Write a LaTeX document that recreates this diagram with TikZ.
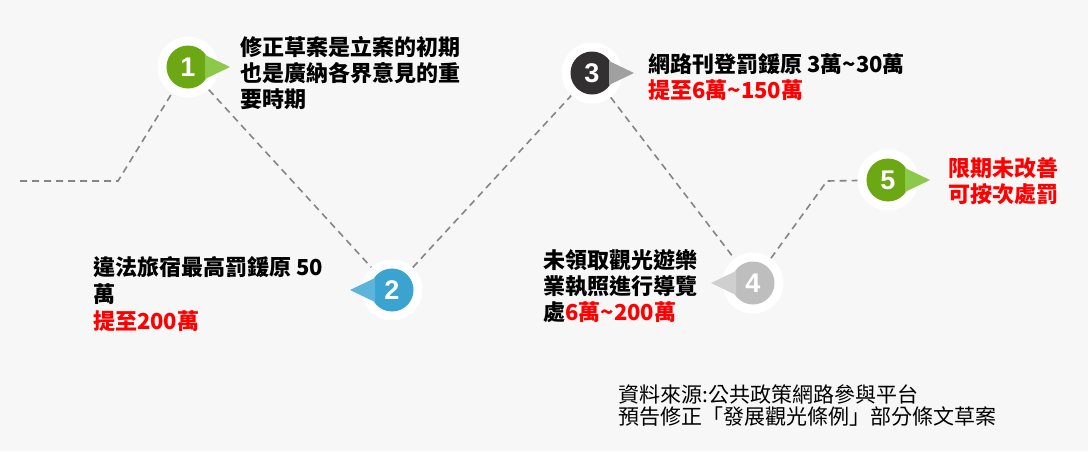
\documentclass[tikz,border=0pt]{standalone}
\usepackage{fontspec}
\setmainfont{Noto Sans CJK TC}
\newfontfamily\numfont{Liberation Sans}
\definecolor{bg}{HTML}{F7F7F7}
\definecolor{trailgray}{HTML}{858585}
\definecolor{stepgreen}{HTML}{6BA814}
\definecolor{ptrgreen}{HTML}{8CC94A}
\definecolor{stepblue}{HTML}{3BA3CF}
\definecolor{ptrblue}{HTML}{5DB4DA}
\definecolor{stepdark}{HTML}{333031}
\definecolor{ptrdark}{HTML}{A0A0A0}
\definecolor{stepgray}{HTML}{BEBEBE}
\definecolor{ptrgray}{HTML}{CFCFCF}
\definecolor{alertred}{HTML}{FF0000}
\begin{document}
\begin{tikzpicture}[x=1pt, y=-1pt, every node/.style={inner sep=0pt},
    ring/.style={circle, fill=white, minimum size=61pt},
    disc/.style={circle, minimum size=43pt, text=white,
    font=\numfont\bfseries\fontsize{27}{27}\selectfont},
    trail/.style={draw=trailgray, line width=1.6pt, dash pattern=on 7pt off 5pt},
    note/.style={anchor=north west, align=left,
    font=\bfseries\fontsize{22}{26}\selectfont}]
        \fill[bg] (0,0) rectangle (1088,451);
        \useasboundingbox (0,0) rectangle (1088,451);
        \coordinate (start) at (20,181);
        \coordinate (bendA) at (118,181);
        \coordinate (bendB) at (827,181);
        \foreach \i/\x/\y in {1/188/67, 2/392/290, 3/592/73, 4/753/283, 5/888/180}
        \node[ring] (ring\i) at (\x,\y) {};
        \draw[trail] (start) -- (bendA) -- (ring1);
        \foreach \a/\b in {1/2, 2/3, 3/4}
        \draw[trail] (ring\a) -- (ring\b);
        \draw[trail] (ring4) -- (bendB) -- (ring5);
        \foreach \i/\c/\p/\s in {1/stepgreen/ptrgreen/1, 2/stepblue/ptrblue/-1,
        3/stepdark/ptrdark/1, 4/stepgray/ptrgray/-1, 5/stepgreen/ptrgreen/1}
        {
        \node[disc, fill=\c] (step\i) at (ring\i) {\i};
        \fill[\p] ([shift={(\s*17,-12)}]ring\i.center) -- ([shift={(\s*42,0)}]ring\i.center)
        -- ([shift={(\s*17,12)}]ring\i.center) -- cycle;
        }
        \node[note] (noteA) at (240,36) {修正草案是立案的初期\\也是廣納各界意見的重\\要時期};
        \node[note, font=\bfseries\fontsize{22}{27}\selectfont] (noteB) at (93,256)
        {違法旅宿最高罰鍰原 50\\萬\\\textcolor{alertred}{提至200萬}};
        \node[note] (noteC) at (648,53) {網路刊登罰鍰原 3萬\textasciitilde30萬\\
        \textcolor{alertred}{提至6萬\textasciitilde150萬}};
        \node[note] (noteD) at (543,249) {未領取觀光遊樂\\業執照進行導覽\\
        處\textcolor{alertred}{6萬\textasciitilde200萬}};
        \node[note, text=alertred] (noteE) at (948,157) {限期未改善\\可按次處罰};
        \node[anchor=north west, align=left, font=\fontsize{21}{22.5}\selectfont] (source)
        at (618,384) {資料來源:公共政策網路參與平台\\預告修正「發展觀光條例」部分條文草案};
    \end{tikzpicture}
\end{document}
